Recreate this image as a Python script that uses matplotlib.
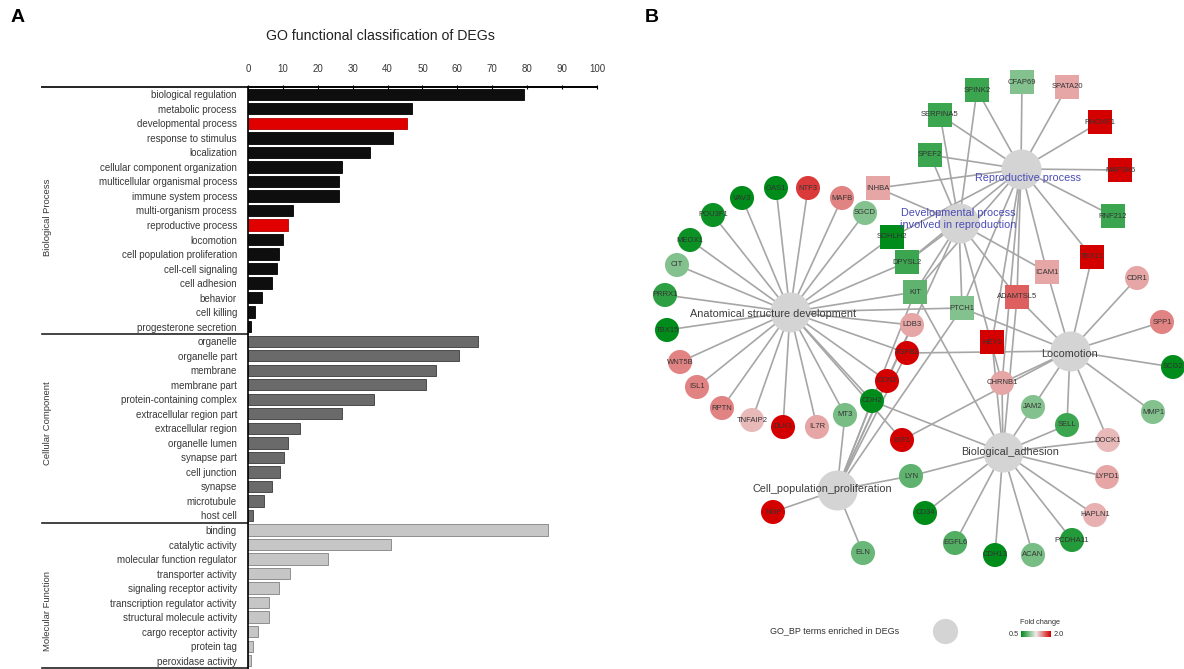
import numpy as np
import matplotlib
matplotlib.use("Agg")
import matplotlib.pyplot as plt
from matplotlib.colors import LinearSegmentedColormap

plt.rcParams['font.family'] = ['Liberation Sans', 'DejaVu Sans']

# ---------------- Panel A data ----------------
bp_terms = ["biological regulation", "metabolic process", "developmental process",
            "response to stimulus", "localization", "cellular component organization",
            "multicellular organismal process", "immune system process",
            "multi-organism process", "reproductive process", "locomotion",
            "cell population proliferation", "cell-cell signaling", "cell adhesion",
            "behavior", "cell killing", "progesterone secretion"]
bp_vals = [79, 47, 45.5, 41.5, 35, 27, 26, 26, 13, 11.5, 10, 9, 8.3, 7, 4, 2, 1]
bp_highlight = ["developmental process", "reproductive process"]

cc_terms = ["organelle", "organelle part", "membrane", "membrane part",
            "protein-containing complex", "extracellular region part",
            "extracellular region", "organelle lumen", "synapse part",
            "cell junction", "synapse", "microtubule", "host cell"]
cc_vals = [66, 60.5, 54, 51, 36, 27, 15, 11.5, 10.3, 9.2, 7, 4.5, 1.3]

mf_terms = ["binding", "catalytic activity", "molecular function regulator",
            "transporter activity", "signaling receptor activity",
            "transcription regulator activity", "structural molecule activity",
            "cargo receptor activity", "protein tag", "peroxidase activity"]
mf_vals = [86, 41, 23, 12, 9, 6, 6, 3, 1.3, 1]

group_names = ["Biological Process", "Cellular Component", "Molecular Function"]
x_ticks = list(range(0, 101, 10))

# ---------------- Panel B data ----------------
hub_names = ["Reproductive process",
             "Developmental process\ninvolved in reproduction",
             "Anatomical structure development", "Locomotion",
             "Biological_adhesion", "Cell_population_proliferation"]
hub_keys = ["R", "D", "A", "L", "B", "C"]
hub_x = [1021, 959, 790, 1070, 1003, 837]
hub_y = [169, 223, 312, 351, 452, 490]
hub_label_x = [1028, 958, 773, 1070, 1010, 822]
hub_label_y = [178, 219, 314, 354, 452, 489]
hub_label_color = ["#4b4bb8", "#4b4bb8", "#3c3c3c", "#3c3c3c", "#3c3c3c", "#3c3c3c"]

genes = ["SPINK2", "CFAP69", "SPATA20", "SERPINA5", "RHOXF1", "SPEF2", "MAP3K6",
         "INHBA", "RNF212", "TEX11", "ICAM1", "SOHLH2", "DPYSL2", "KIT", "PTCH1",
         "ADAMTSL5", "HEY1", "CHRNB1", "CDR1", "SPP1", "SCG2", "MMP1", "DOCK1",
         "SELL", "JAM2", "LYPD1", "HAPLN1", "PCDHA11", "ACAN", "CDH13", "EGFL6",
         "CD34", "LYN", "ELN", "NGF", "IGF1", "CCN2", "CDH2", "TGFB2", "LDB3",
         "MT3", "IL7R", "DLK1", "TNFAIP2", "RPTN", "ISL1", "WNT5B", "TBX15",
         "PRRX1", "CIT", "MEOX1", "POU3F1", "VAV3", "GAS1", "NTF3", "MAFB", "SGCD"]
gene_x = [977, 1022, 1067, 940, 1100, 930, 1120, 878, 1113, 1092, 1047, 892, 907,
          915, 962, 1017, 992, 1002, 1137, 1162, 1173, 1153, 1108, 1067, 1033, 1107,
          1095, 1072, 1033, 995, 955, 925, 911, 863, 773, 902, 887, 872, 907, 912,
          845, 817, 783, 752, 722, 697, 680, 667, 665, 677, 690, 713, 742, 776, 808,
          842, 865]
gene_y = [90, 82, 87, 115, 122, 155, 170, 188, 216, 257, 272, 237, 262, 292, 308,
          297, 342, 383, 278, 322, 367, 412, 440, 425, 407, 477, 515, 540, 555, 555,
          543, 513, 476, 553, 512, 440, 381, 401, 353, 325, 415, 427, 427, 420, 408,
          387, 362, 330, 295, 265, 240, 215, 198, 188, 188, 198, 213]
gene_shape = ["s"] * 17 + ["o"] * 40
gene_fc = [-0.75, -0.45, 0.3, -0.75, 1.0, -0.75, 1.0, 0.3, -0.75, 1.0, 0.3, -1.0,
           -0.75, -0.6, -0.45, 0.6, 1.0, 0.3, 0.3, 0.45, -1.0, -0.45, 0.22, -0.75,
           -0.45, 0.3, 0.25, -0.85, -0.5, -1.0, -0.65, -1.0, -0.6, -0.55, 1.0, 1.0,
           1.0, -1.0, 1.0, 0.3, -0.5, 0.3, 1.0, 0.22, 0.45, 0.45, 0.45, -1.0, -0.8,
           -0.45, -0.95, -0.95, -1.0, -1.0, 0.75, 0.45, -0.45]
gene_links = ["RD", "R", "R", "RD", "R", "RD", "R", "RD", "R", "RL", "RDL", "AR",
              "ADR", "ADRCB", "DRLAC", "DRLB", "RB", "RLBD", "L", "L", "L", "L", "BL",
              "BL", "BL", "B", "B", "B", "B", "B", "B", "B", "BC", "C", "C", "LA",
              "ACD", "ACB", "ALC", "AC", "AC", "A", "A", "A", "A", "A", "A", "A", "A",
              "A", "A", "A", "A", "A", "A", "A", "A"]

W, H = 1184, 669
fig = plt.figure(figsize=(W / 100, H / 100), dpi=100)

# ---------------- Panel A ----------------
left_px, right_px, top_px, bot_px = 248, 597, 87, 668
axA = fig.add_axes([left_px / W, 1 - bot_px / H, (right_px - left_px) / W, (bot_px - top_px) / H])
terms = bp_terms + cc_terms + mf_terms
vals = bp_vals + cc_vals + mf_vals
colors, edges = [], []
for t in bp_terms:
    colors.append("#e00000" if t in bp_highlight else "#0e0e0e")
    edges.append("#b00000" if t in bp_highlight else "#000000")
colors += ["#6a6a6a"] * len(cc_terms)
edges += ["#3a3a3a"] * len(cc_terms)
colors += ["#c6c6c6"] * len(mf_terms)
edges += ["#808080"] * len(mf_terms)
ypos = np.arange(len(terms))
axA.barh(ypos, vals, height=0.78, color=colors, edgecolor=edges, linewidth=0.6)
axA.set_ylim(len(terms) - 0.5, -0.5)
axA.set_xlim(0, 100)
axA.set_yticks(ypos)
axA.set_yticklabels(terms, fontsize=7, color="#383838")
axA.tick_params(axis="y", length=0, pad=8)
axA.xaxis.tick_top()
axA.set_xticks(x_ticks)
axA.set_xticklabels([str(v) for v in x_ticks], fontsize=7, color="#383838")
axA.tick_params(axis="x", direction="inout", length=3, width=0.8, pad=8, top=True, bottom=False)
for s in ["right", "bottom"]:
    axA.spines[s].set_visible(False)
axA.spines["top"].set_linewidth(1.4)
axA.spines["left"].set_linewidth(1.2)
tr = axA.get_yaxis_transform()
ext = (42 - left_px) / (right_px - left_px)
n1, n2 = len(bp_terms), len(bp_terms) + len(cc_terms)
for yb, lw in [(-0.5, 1.4), (n1 - 0.5, 1.2), (n2 - 0.5, 1.2), (len(terms) - 0.5, 1.2)]:
    axA.plot([ext, 0], [yb, yb], color="#222222", lw=lw, transform=tr, clip_on=False)
for name, yc in zip(group_names, [217, 423, 611]):
    fig.text(48 / W, 1 - yc / H, name, rotation=90, ha="center", va="center",
             fontsize=6.8, color="#383838")
fig.text(380 / W, 1 - 36 / H, "GO functional classification of DEGs", ha="center",
         va="center", fontsize=10.2, color="#222222")
fig.text(18 / W, 1 - 18 / H, "A", fontsize=14, fontweight="bold", ha="center", va="center")
fig.text(652 / W, 1 - 18 / H, "B", fontsize=14, fontweight="bold", ha="center", va="center")

# ---------------- Panel B ----------------
axB = fig.add_axes([640 / W, 0, (W - 640) / W, 1])
axB.set_xlim(640, W)
axB.set_ylim(H, 0)
axB.axis("off")
cmap = LinearSegmentedColormap.from_list("fc", ["#008c1a", "#eeeeee", "#d40000"])
hub_pos = {k: (x, y) for k, x, y in zip(hub_keys, hub_x, hub_y)}
for gx, gy, links in zip(gene_x, gene_y, gene_links):
    for k in links:
        hx, hy = hub_pos[k]
        axB.plot([gx, hx], [gy, hy], color="#a6a6a6", lw=1.2, zorder=1)
axB.scatter(hub_x, hub_y, s=830, color="#d4d4d4", zorder=2, linewidths=0)
for shp in ["o", "s"]:
    idx = [i for i, s in enumerate(gene_shape) if s == shp]
    axB.scatter([gene_x[i] for i in idx], [gene_y[i] for i in idx],
                c=[gene_fc[i] for i in idx], cmap=cmap, vmin=-1, vmax=1,
                marker=shp, s=300 if shp == "o" else 280, linewidths=0, zorder=3)
for g, x, y in zip(genes, gene_x, gene_y):
    axB.text(x, y, g, fontsize=5.5, color="#333333", ha="center", va="center", zorder=4)
for name, x, y, c in zip(hub_names, hub_label_x, hub_label_y, hub_label_color):
    axB.text(x, y, name, fontsize=7.8, color=c, ha="center", va="center", zorder=5,
             linespacing=1.3)

# legend
axB.text(835, 631, "GO_BP terms enriched in DEGs", fontsize=6.5, color="#333333",
         ha="center", va="center")
axB.scatter([945], [631], s=330, color="#d4d4d4", linewidths=0)
axB.text(1040, 622, "Fold change", fontsize=5.3, color="#333333", ha="center", va="center")
axB.text(1014, 634, "0.5", fontsize=5.3, color="#333333", ha="center", va="center")
axB.text(1059, 634, "2.0", fontsize=5.3, color="#333333", ha="center", va="center")
grad = np.linspace(-1, 1, 64).reshape(1, -1)
axB.imshow(grad, cmap=cmap, vmin=-1, vmax=1, extent=(1021, 1051, 637, 631), aspect="auto", zorder=2)
axB.set_xlim(640, W)
axB.set_ylim(H, 0)

fig.savefig("out.png", dpi=100)
